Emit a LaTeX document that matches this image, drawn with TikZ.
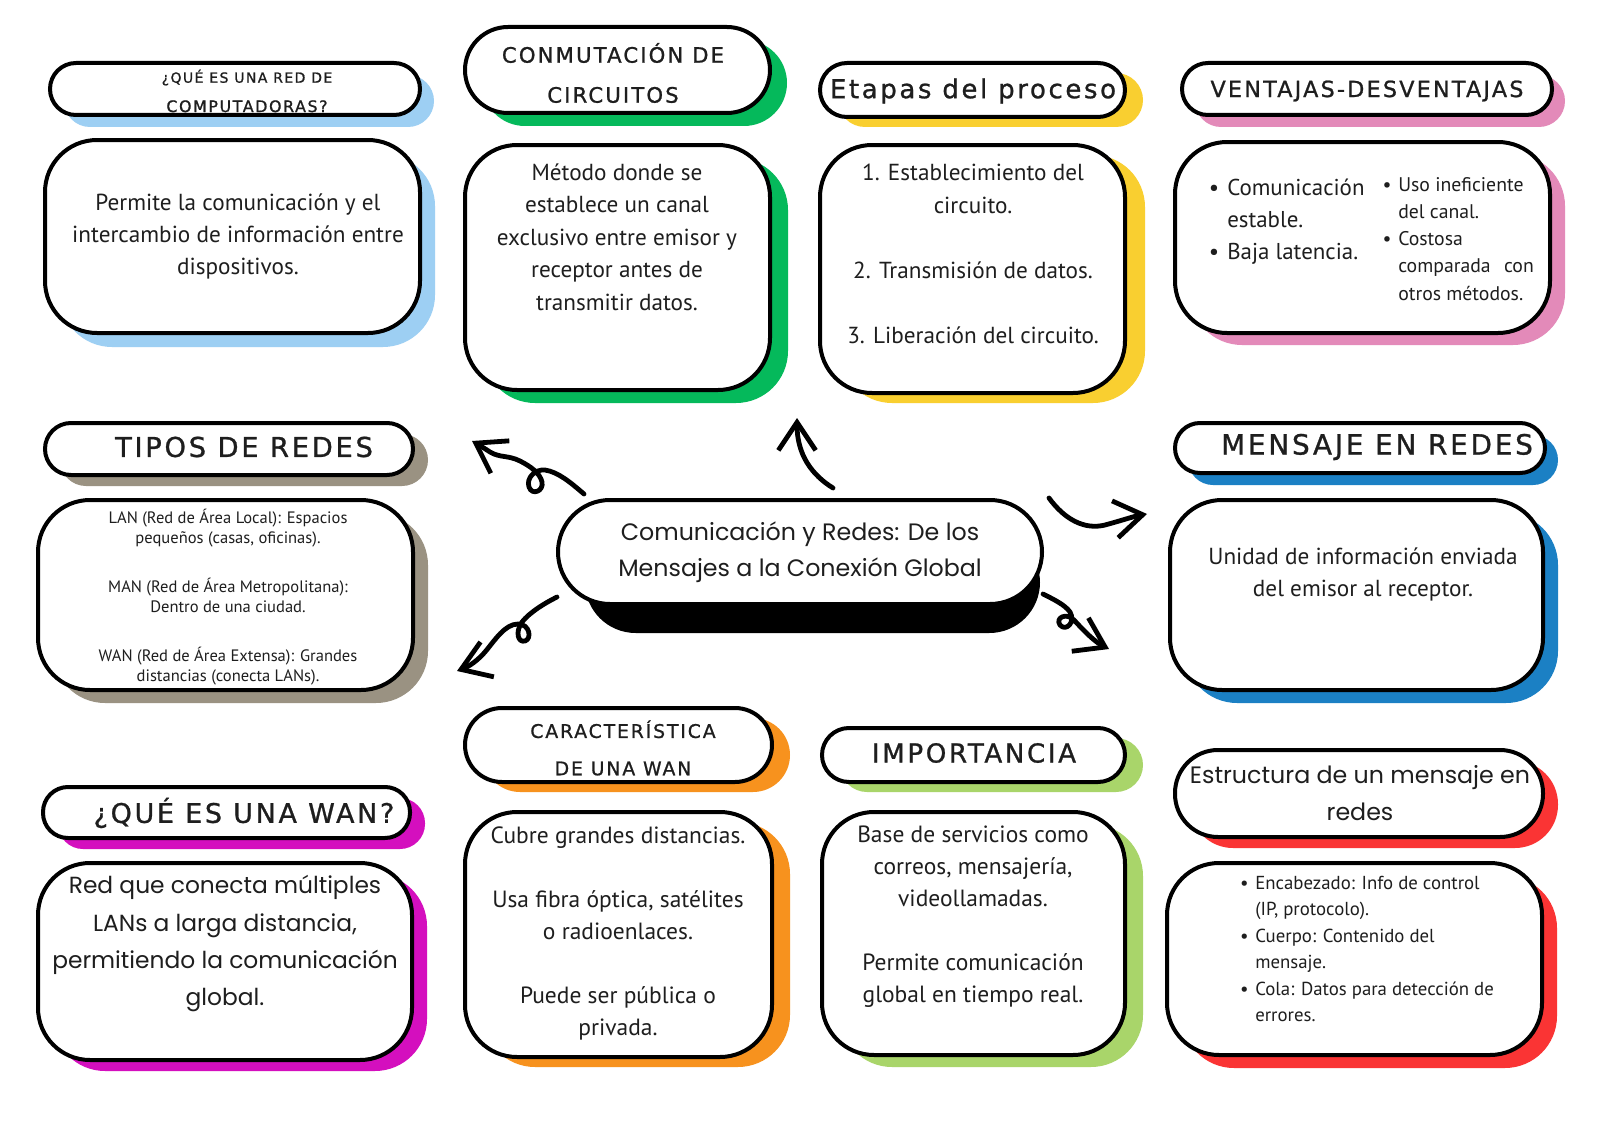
\documentclass[tikz,border=0pt]{standalone}
\usepackage{fontspec}
\setmainfont{PT Sans}
\newfontfamily\hfont{DejaVu Sans}[LetterSpace=10, FakeBold=1]
\newfontfamily\qfont{Poppins}
\usetikzlibrary{arrows.meta}

\definecolor{cBlueL}{HTML}{9DCFF3}
\definecolor{cGreen}{HTML}{05B95B}
\definecolor{cYellow}{HTML}{F9CF30}
\definecolor{cPink}{HTML}{E38AB9}
\definecolor{cTaupe}{HTML}{9A9282}
\definecolor{cBlue}{HTML}{1B80C4}
\definecolor{cMagenta}{HTML}{D40FBE}
\definecolor{cOrange}{HTML}{F7921E}
\definecolor{cLime}{HTML}{A9D56A}
\definecolor{cRed}{HTML}{FA3434}
\definecolor{cText}{HTML}{1E1E1E}

\tikzset{
  card/.style={draw=black, line width=3pt, fill=white, inner sep=0pt},
  txt/.style={inner sep=0pt, align=center, text=cText},
  arr/.style={line width=3.6pt, line cap=round, line join=round,
     -{Straight Barb[length=21pt,width=28pt]}},
}

% #1 name, #2 x1, #3 y1, #4 x2, #5 y2, #6 radius px, #7 dx, #8 dy, #9 colour
\newcommand\cardbox[9]{%
  \fill[#9, rounded corners=#6*0.75pt] (#2+#7,#3+#8) rectangle (#4+#7,#5+#8);
  \node[card, rounded corners=#6*0.75pt, minimum width={(#4-#2)*0.75pt},
        minimum height={(#5-#3)*0.75pt}] (#1) at ({(#2+#4)/2},{(#3+#5)/2}) {};
}

\begin{document}
\begin{tikzpicture}[x=0.75pt,y=-0.75pt]
\fill[white] (0,0) rectangle (1600,1131);
\useasboundingbox (0,0) rectangle (1600,1131);

% ---------- column 1 ----------
\cardbox{h1}{50}{63}{420}{115}{26}{14}{12}{cBlueL}
\cardbox{b1}{45}{140}{420}{333}{52}{15}{14}{cBlueL}
\cardbox{h5}{45}{423}{413}{475}{26}{15}{11}{cTaupe}
\cardbox{b5}{38}{500}{413}{690}{52}{15}{13}{cTaupe}
\cardbox{h7}{43}{787}{410}{838}{25}{15}{11}{cMagenta}
\cardbox{b7}{38}{863}{412}{1060}{52}{15}{11}{cMagenta}
% ---------- column 2 ----------
\cardbox{h2}{465}{27}{770}{113}{43}{17}{13}{cGreen}
\cardbox{b2}{465}{145}{770}{390}{52}{18}{13}{cGreen}
\cardbox{h8}{465}{708}{772}{782}{37}{18}{10}{cOrange}
\cardbox{b8}{465}{812}{772}{1057}{52}{18}{10}{cOrange}
% ---------- column 3 ----------
\cardbox{h3}{820}{63}{1125}{117}{27}{18}{10}{cYellow}
\cardbox{b3}{820}{145}{1125}{393}{52}{20}{10}{cYellow}
\cardbox{h9}{822}{728}{1125}{782}{27}{18}{10}{cLime}
\cardbox{b9}{822}{812}{1125}{1055}{52}{18}{12}{cLime}
% ---------- column 4 ----------
\cardbox{h4}{1182}{63}{1552}{115}{26}{13}{12}{cPink}
\cardbox{b4}{1175}{142}{1550}{333}{52}{15}{12}{cPink}
\cardbox{h10}{1175}{423}{1545}{473}{25}{13}{12}{cBlue}
\cardbox{b10}{1170}{500}{1543}{690}{52}{15}{13}{cBlue}
\cardbox{h11}{1175}{750}{1543}{837}{43}{15}{11}{cRed}
\cardbox{b11}{1167}{863}{1542}{1055}{52}{15}{13}{cRed}

% ---------- centre ----------
\fill[black, rounded corners=38pt] (585,532) rectangle (1040,633);
\node[card, rounded corners=39pt, minimum width=363pt, minimum height=78pt,
      align=center, text=cText, font=\qfont\fontsize{17.8}{27}\selectfont] (ctr) at (800,552)
  {Comunicación y Redes: De los\\Mensajes a la Conexión Global};

% ---------- header texts ----------
\node[txt, font=\hfont] (t1) at (247,91)
  {{\fontsize{10.5}{12}\selectfont ¿QUÉ ES UNA RED DE}\\[10pt]{\fontsize{11.9}{12}\selectfont COMPUTADORAS?}};
\node[txt, font=\hfont\fontsize{15.9}{30}\selectfont] (t2) at (613,73)
  {CONMUTACIÓN DE\\CIRCUITOS};
\node[txt, font=\hfont\fontsize{19.5}{24}\selectfont] (t3) at (973,91) {Etapas del proceso};
\node[txt, font=\hfont\fontsize{16.7}{20}\selectfont] (t4) at (1367,91) {VENTAJAS-DESVENTAJAS};
\node[txt, font=\hfont\fontsize{20.5}{24}\selectfont] (t5) at (244,447) {TIPOS DE REDES};
\node[txt, font=\hfont\fontsize{20.2}{24}\selectfont] (t7) at (244,813) {¿QUÉ ES UNA WAN?};
\node[txt, font=\hfont\fontsize{14.1}{28}\selectfont] (t8) at (623,748) {CARACTERÍSTICA\\DE UNA WAN};
\node[txt, font=\hfont\fontsize{19.6}{24}\selectfont] (t9) at (974,753) {IMPORTANCIA};
\node[txt, font=\hfont\fontsize{20.9}{24}\selectfont] (t10) at (1377,447) {MENSAJE EN REDES};
\node[txt, font=\qfont\fontsize{17.8}{27.75}\selectfont] (t11) at (1360,793)
  {Estructura de un mensaje en\\redes};

% ---------- body texts ----------
\node[txt, font=\fontsize{17.4}{24}\selectfont] (u1) at (238,236)
  {Permite la comunicación y el\\intercambio de información entre\\dispositivos.};
\node[txt, font=\fontsize{17.4}{24.4}\selectfont] (u2) at (617,237)
  {Método donde se\\establece un canal\\exclusivo entre emisor y\\receptor antes de\\transmitir datos.};
\node[txt, font=\fontsize{17.4}{24.4}\selectfont] (u3) at (973,254)
  {1. Establecimiento del\\circuito.\\[24.4pt]2. Transmisión de datos.\\[24.4pt]3. Liberación del circuito.};
\node[txt, align=left, anchor=west, font=\fontsize{17.2}{24}\selectfont] (u4a) at (1227,222)
  {\llap{•\hspace{6pt}}Comunicación\\estable.\\\llap{•\hspace{6pt}}Baja latencia.};
\node[txt, align=left, anchor=west, font=\fontsize{14.8}{20.3}\selectfont] (u4b) at (1398,239)
  {\llap{•\hspace{5pt}}Uso ineficiente\\del canal.\\\llap{•\hspace{5pt}}Costosa\\comparada\hspace{10pt}con\\otros métodos.};
\node[txt, font=\fontsize{12.4}{15.4}\selectfont] (u5) at (228,597)
  {LAN (Red de Área Local): Espacios\\pequeños (casas, oficinas).\\[21pt]MAN (Red de Área Metropolitana):\\Dentro de una ciudad.\\[21pt]WAN (Red de Área Extensa): Grandes\\distancias (conecta LANs).};
\node[txt, font=\qfont\fontsize{17.5}{28}\selectfont] (u7) at (225,944)
  {Red que conecta múltiples\\LANs a larga distancia,\\permitiendo la comunicación\\global.};
\node[txt, font=\fontsize{17.6}{24}\selectfont] (u8) at (618,933)
  {Cubre grandes distancias.\\[24pt]Usa fibra óptica, satélites\\o radioenlaces.\\[24pt]Puede ser pública o\\privada.};
\node[txt, font=\fontsize{17.6}{24}\selectfont] (u9) at (973,917)
  {Base de servicios como\\correos, mensajería,\\videollamadas.\\[24pt]Permite comunicación\\global en tiempo real.};
\node[txt, font=\fontsize{17.4}{24}\selectfont] (u10) at (1363,574)
  {Unidad de información enviada\\del emisor al receptor.};
\node[txt, align=left, anchor=west, font=\fontsize{14.1}{19.8}\selectfont] (u11) at (1255,949)
  {\llap{•\hspace{5pt}}Encabezado: Info de control\\(IP, protocolo).\\\llap{•\hspace{5pt}}Cuerpo: Contenido del\\mensaje.\\\llap{•\hspace{5pt}}Cola: Datos para detección de\\errores.};

% ---------- connectors ----------
\coordinate (s1) at (584,494);  \coordinate (e1) at (472,441);
\coordinate (s2) at (833,488);  \coordinate (e2) at (797,418);
\coordinate (s3) at (1049,498); \coordinate (e3) at (1147,514);
\coordinate (s4) at (1043,594); \coordinate (e4) at (1109,649);
\coordinate (s5) at (557,597);  \coordinate (e5) at (457,671);

\draw[arr] (s1) .. controls (570,482) and (558,472) .. (545,470)
  .. controls (535,469) and (526,478) .. (529,487)
  .. controls (532,496) and (544,491) .. (542,482)
  .. controls (540,473) and (530,466) .. (520,461)
  .. controls (508,455) and (500,458) .. (490,452)
  .. controls (484,448) and (479,445) .. (e1);
\draw[arr] (s2) .. controls (812,475) and (797,455) .. (e2);
\draw[arr] (s3) .. controls (1065,520) and (1085,530) .. (1105,525)
  .. controls (1120,521) and (1135,516) .. (e3);
\draw[arr] (s4) .. controls (1055,600) and (1065,605) .. (1070,612)
  .. controls (1076,622) and (1066,632) .. (1060,625)
  .. controls (1055,618) and (1066,612) .. (1074,620)
  .. controls (1085,632) and (1095,642) .. (e4);
\draw[arr] (s5) .. controls (545,603) and (530,612) .. (522,622)
  .. controls (515,632) and (518,643) .. (525,641)
  .. controls (532,639) and (530,624) .. (518,624)
  .. controls (505,624) and (495,640) .. (485,652)
  .. controls (478,660) and (470,666) .. (e5);
\end{tikzpicture}
\end{document}
